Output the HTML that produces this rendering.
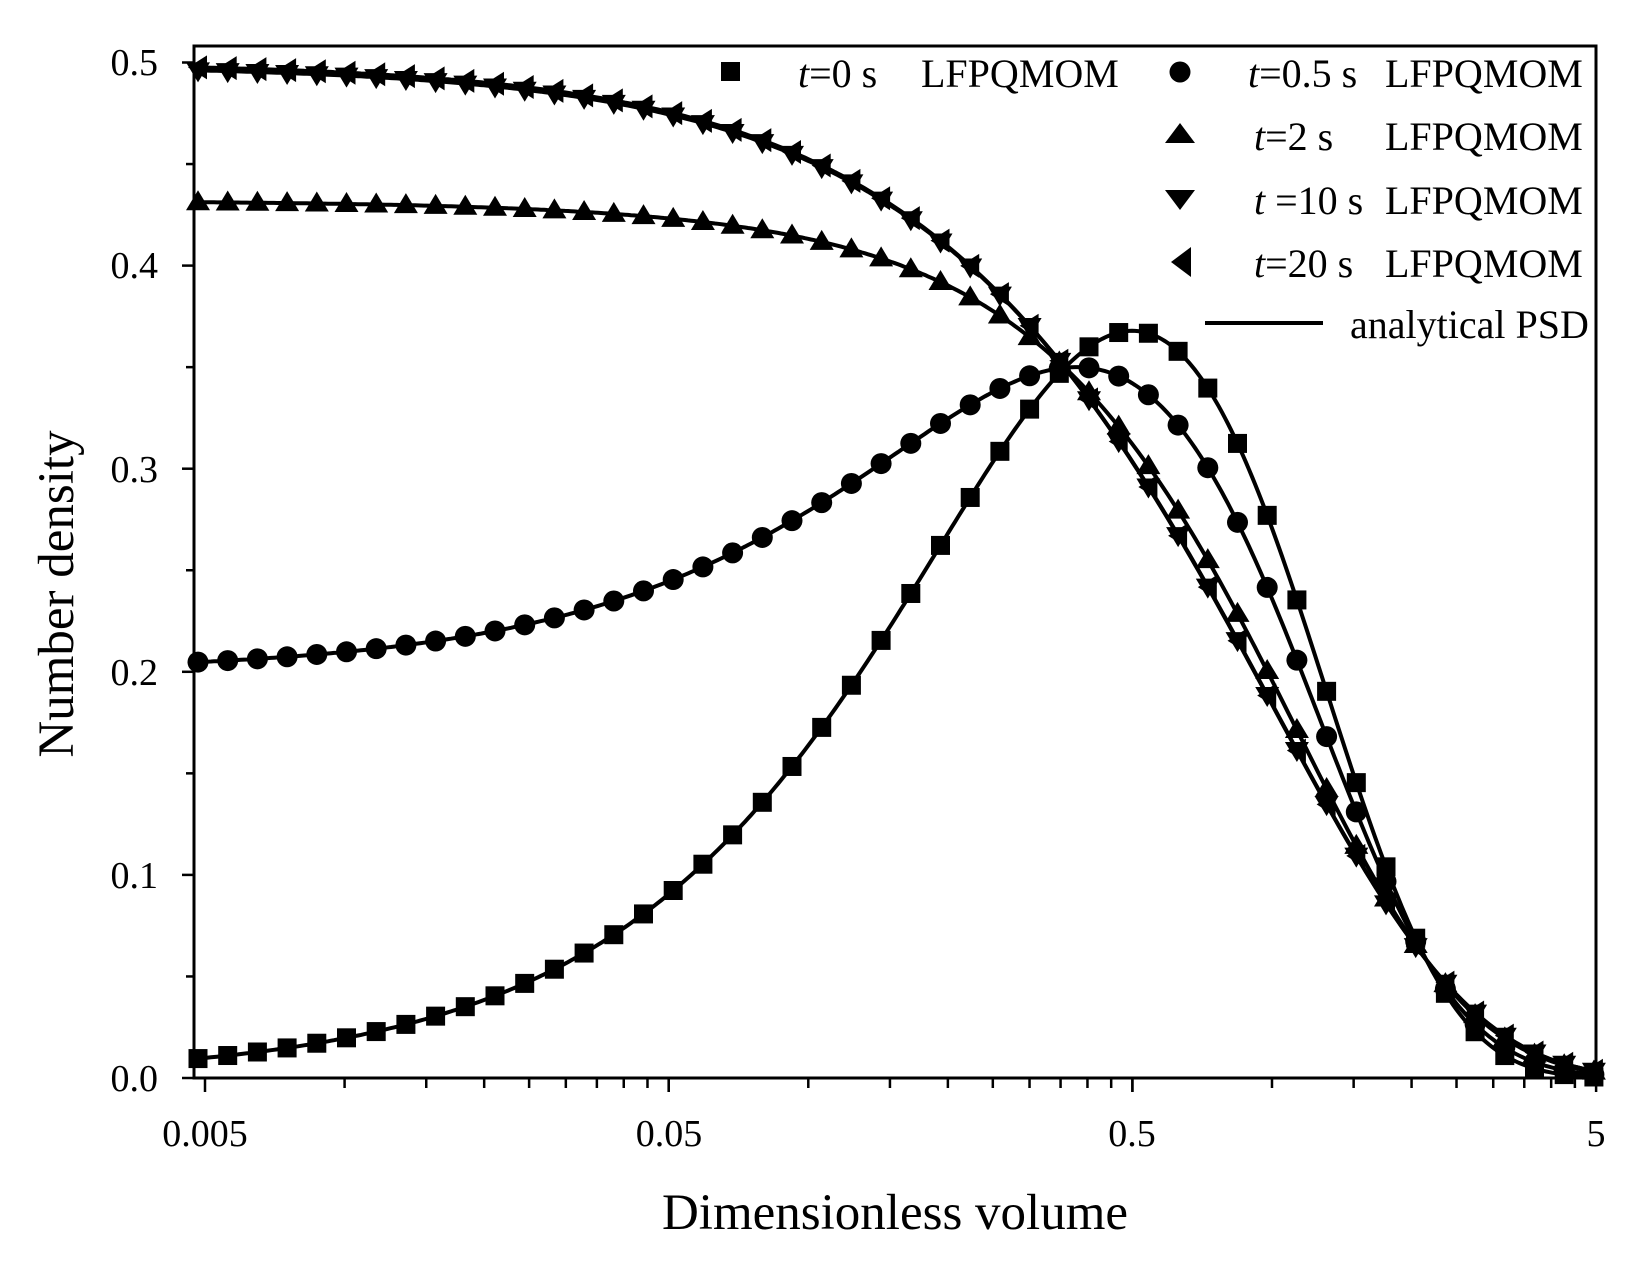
<!DOCTYPE html>
<html><head><meta charset="utf-8"><style>
html,body{margin:0;padding:0;background:#fff;}
svg{display:block;font-family:"Liberation Serif",serif;}
</style></head><body>
<svg id="s" width="1637" height="1262" viewBox="0 0 1637 1262" xmlns="http://www.w3.org/2000/svg">
<rect x="0" y="0" width="1637" height="1262" fill="#fff"/>
<g id="g"></g>
<rect x="194" y="46" width="1402" height="1032" fill="none" stroke="#000" stroke-width="3"/>
<g font-size="38" text-anchor="end">
<text x="158" y="1091">0.0</text><text x="158" y="888">0.1</text><text x="158" y="685">0.2</text>
<text x="158" y="482">0.3</text><text x="158" y="278">0.4</text><text x="158" y="75">0.5</text>
</g>
<g font-size="38" text-anchor="middle">
<text x="205" y="1146">0.005</text><text x="669" y="1146">0.05</text><text x="1132" y="1146">0.5</text><text x="1596" y="1146">5</text>
</g>
<text x="895" y="1229" font-size="51" text-anchor="middle">Dimensionless volume</text>
<text transform="translate(73,594) rotate(-90)" font-size="51" text-anchor="middle">Number density</text>
<g font-size="40">
<rect x="721" y="62" width="19" height="19"/>
<text x="798" y="87"><tspan font-style="italic">t</tspan>=0 s</text><text x="921" y="87">LFPQMOM</text>
<circle cx="1180" cy="72" r="10.5"/>
<text x="1248" y="87"><tspan font-style="italic">t</tspan>=0.5 s</text><text x="1385" y="87">LFPQMOM</text>
<polygon points="1180,123 1195,143 1165,143"/>
<text x="1254" y="150"><tspan font-style="italic">t</tspan>=2 s</text><text x="1385" y="150">LFPQMOM</text>
<polygon points="1165,190 1195,190 1180,210"/>
<text x="1254" y="214"><tspan font-style="italic">t</tspan> =10 s</text><text x="1385" y="214">LFPQMOM</text>
<polygon points="1171,262 1191,247 1191,277"/>
<text x="1254" y="277"><tspan font-style="italic">t</tspan>=20 s</text><text x="1385" y="277">LFPQMOM</text>
<line x1="1205" y1="323" x2="1323" y2="323" stroke="#000" stroke-width="4"/>
<text x="1350" y="338">analytical PSD</text>
</g>
</svg>
<script>
var g=document.getElementById('g'),h='';
var X0=205,DEC=463.7;
function X(v){return X0+DEC*Math.log10(v/0.005);}
function Y(n){return 1078-n*2031;}
function V(x){return 0.005*Math.pow(10,(x-X0)/DEC);}
for(var i=0;i<=10;i++){var y=1078-i*101.55;h+='<line x1="'+(i%2?186:182)+'" y1="'+y+'" x2="194" y2="'+y+'" stroke="#000" stroke-width="2.5"/>';}
var decs=[0.005,0.05,0.5];
for(var d=0;d<3;d++){for(var m=1;m<=10;m++){var v=decs[d]*m;if(v>5.0001)break;var x=X(v);var maj=(m==1||m==10);
h+='<line x1="'+x+'" y1="1078" x2="'+x+'" y2="'+(maj?1092:1088)+'" stroke="#000" stroke-width="2.5"/>';}}
function f(v,a){return (1-a)*2*v*Math.exp(-2*v)+a*0.5*Math.exp(-v);}
var A=[0,0.4,0.864,0.997,1.0];
for(var s=0;s<5;s++){var p='';for(var x=196;x<=1596;x+=3){var v=V(x);p+=(p?'L':'M')+x.toFixed(1)+','+Y(f(v,A[s])).toFixed(1);}
h+='<path d="'+p+'" fill="none" stroke="#000" stroke-width="4"/>';}
for(var s=0;s<5;s++){for(var k=0;k<48;k++){var x=198+29.7*k,y=Y(f(V(x),A[s]));
if(s==0)h+='<rect x="'+(x-9.5)+'" y="'+(y-9.5)+'" width="19" height="19"/>';
else if(s==1)h+='<circle cx="'+x+'" cy="'+y+'" r="10.5"/>';
else if(s==2)h+='<polygon points="'+x+','+(y-12)+' '+(x+12)+','+(y+8)+' '+(x-12)+','+(y+8)+'"/>';
else if(s==3)h+='<polygon points="'+(x-12)+','+(y-8)+' '+(x+12)+','+(y-8)+' '+x+','+(y+12)+'"/>';
else h+='<polygon points="'+(x-10)+','+y+' '+(x+9)+','+(y-12)+' '+(x+9)+','+(y+12)+'"/>';}}
g.innerHTML=h;
</script>
</body></html>
